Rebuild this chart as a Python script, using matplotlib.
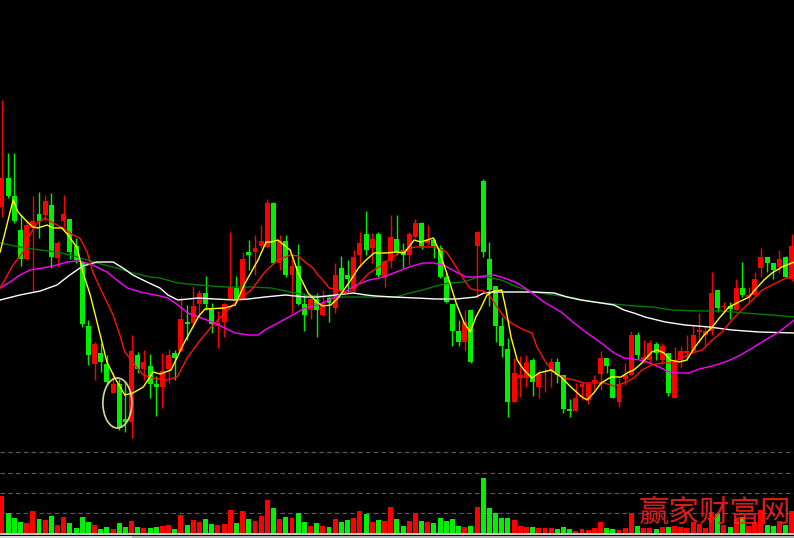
import matplotlib
matplotlib.use('Agg')
import matplotlib.pyplot as plt
from matplotlib.patches import Ellipse, Rectangle

# ---------------- data ----------------
opens = [293, 322, 304, 270, 241, 272, 286, 285, 295, 242,
         279, 281, 254, 238, 174, 136, 147, 136, 107, 116,
         81, 78, 145, 131, 134, 116, 113, 131, 147, 149,
         178, 177, 196, 207, 192, 174, 178, 201, 212, 201,
         248, 248, 254, 253, 297, 237, 259, 225, 234, 196,
         190, 201, 185, 202, 192, 232, 225, 211, 245, 266,
         252, 266, 223, 239, 261, 250, 245, 263, 277, 257,
         260, 252, 223, 196, 169, 158, 190, 254, 319, 241,
         214, 174, 151, 98, 122, 122, 140, 113, 128, 129,
         138, 125, 91, 89, 113, 100, 118, 126, 142, 131,
         98, 121, 125, 165, 140, 140, 156, 140, 147, 102,
         140, 147, 149, 168, 165, 169, 210, 193, 194, 190,
         212, 203, 205, 232, 243, 237, 233, 243, 221]
highs = [400, 347, 347, 285, 280, 304, 308, 305, 307, 259,
         305, 281, 262, 238, 180, 158, 157, 145, 127, 121,
         118, 165, 148, 150, 146, 124, 147, 151, 150, 203,
         195, 214, 210, 224, 197, 189, 197, 268, 224, 248,
         260, 265, 275, 301, 298, 265, 265, 245, 256, 207,
         203, 207, 210, 206, 237, 244, 240, 250, 268, 289,
         267, 268, 240, 285, 285, 257, 268, 281, 278, 275,
         262, 255, 227, 196, 180, 190, 190, 269, 321, 258,
         214, 183, 162, 142, 144, 145, 142, 130, 132, 142,
         142, 125, 101, 117, 118, 117, 125, 149, 142, 131,
         122, 137, 169, 168, 160, 160, 158, 157, 147, 153,
         154, 165, 174, 187, 174, 228, 210, 198, 198, 221,
         238, 213, 228, 252, 243, 237, 250, 244, 266]
lows = [283, 302, 277, 234, 240, 209, 262, 279, 232, 233,
        273, 241, 237, 173, 135, 120, 128, 115, 107, 70,
        68, 62, 127, 120, 102, 84, 92, 117, 120, 149,
        160, 173, 183, 190, 167, 152, 163, 201, 197, 200,
        230, 225, 252, 252, 236, 230, 223, 187, 195, 169,
        181, 163, 184, 178, 187, 206, 208, 208, 233, 245,
        237, 223, 213, 232, 245, 232, 235, 262, 251, 255,
        242, 222, 197, 154, 154, 149, 137, 202, 243, 194,
        158, 143, 83, 98, 103, 113, 104, 102, 108, 113,
        117, 87, 83, 89, 100, 96, 110, 110, 127, 102,
        93, 115, 125, 141, 137, 138, 140, 136, 104, 102,
        132, 142, 149, 158, 155, 165, 188, 187, 181, 190,
        203, 197, 205, 223, 228, 221, 227, 222, 219]
closes = [322, 304, 279, 241, 275, 279, 279, 299, 243, 257,
          286, 248, 240, 176, 145, 156, 138, 118, 116, 72,
          78, 149, 131, 138, 116, 113, 129, 145, 142, 181,
          176, 194, 207, 196, 176, 177, 196, 213, 201, 241,
          245, 252, 259, 297, 237, 259, 225, 234, 196, 185,
          201, 190, 197, 197, 225, 210, 221, 243, 257, 250,
          261, 225, 239, 263, 248, 245, 266, 277, 254, 260,
          254, 223, 198, 169, 158, 178, 138, 268, 248, 210,
          174, 154, 98, 127, 125, 138, 118, 126, 129, 138,
          125, 91, 89, 102, 116, 116, 120, 142, 134, 102,
          116, 125, 165, 145, 143, 157, 147, 154, 107, 138,
          149, 149, 165, 170, 169, 207, 192, 194, 191, 212,
          205, 205, 221, 243, 237, 230, 241, 223, 254]
volumes = [37, 20, 15, 11, 10, 22, 14, 13, 17, 8,
           16, 10, 5, 16, 11, 8, 4, 6, 4, 10,
           6, 12, 6, 5, 5, 6, 7, 8, 4, 18,
           8, 13, 11, 14, 9, 8, 9, 23, 10, 22,
           14, 12, 17, 33, 25, 14, 16, 15, 20, 11,
           7, 10, 7, 6, 14, 11, 13, 15, 22, 19,
           11, 13, 12, 26, 14, 7, 12, 20, 12, 11,
           10, 15, 12, 14, 7, 6, 7, 26, 55, 25,
           20, 15, 15, 13, 7, 6, 6, 5, 5, 5,
           4, 6, 4, 2, 4, 3, 5, 11, 5, 4,
           3, 5, 20, 7, 5, 5, 4, 6, 6, 7,
           6, 5, 11, 9, 5, 21, 19, 8, 6, 14,
           16, 7, 11, 23, 8, 7, 12, 8, 22]

# moving averages: (bar index, value)
ma5 = [(-0.3, 248), (1.8, 300), (2.6, 288), (4.1, 278), (5.0, 273), (5.8, 272), (7.3, 275),
       (8.3, 272), (9.7, 272), (10.7, 265), (12.2, 252), (13.1, 228), (14.3, 205), (15.4, 178),
       (17.0, 138), (18.3, 122), (19.9, 105), (21.2, 107), (22.9, 113), (24.5, 128), (25.6, 126),
       (27.4, 130), (29.5, 157), (31.9, 184), (32.9, 191), (36.1, 192), (37.8, 195), (39.4, 217),
       (41.5, 240), (42.8, 258), (43.6, 258), (44.7, 260), (46.7, 250), (48.0, 227), (49.6, 207),
       (51.2, 197), (52.0, 194), (53.3, 195), (54.6, 203), (56.2, 217), (57.9, 233), (59.0, 240),
       (60.3, 247), (62.2, 247), (63.9, 248), (65.2, 247), (66.8, 260), (67.9, 258), (69.9, 262),
       (70.8, 250), (72.3, 223), (73.6, 197), (74.9, 177), (75.9, 168), (76.8, 183), (77.6, 192),
       (78.6, 205), (79.7, 209), (81.0, 210), (81.7, 190), (82.5, 163), (83.5, 140), (84.6, 130),
       (85.9, 122), (87.0, 127), (89.0, 130), (90.6, 123), (92.2, 113), (93.8, 104), (94.8, 100),
       (95.9, 107), (97.1, 117), (98.7, 123), (100.3, 123), (101.6, 128), (102.4, 130), (103.7, 137),
       (105.3, 148), (106.2, 150), (107.3, 147), (108.3, 140), (109.7, 138), (111.0, 140),
       (112.3, 153), (113.8, 165), (115.1, 173), (116.4, 183), (117.8, 193), (119.4, 198),
       (121.1, 203), (122.0, 210), (123.5, 220), (124.8, 227), (126.4, 233), (128.4, 238)]
ma10 = [(-0.3, 212), (1.8, 235), (3.4, 248), (4.5, 265), (5.7, 277), (7.0, 282), (8.3, 277),
        (9.9, 272), (11.5, 265), (12.6, 262), (13.8, 248), (14.7, 228), (15.9, 212), (17.0, 198),
        (18.0, 185), (19.1, 165), (19.9, 148), (20.7, 142), (21.9, 132), (22.9, 125), (24.5, 122),
        (26.7, 120), (28.4, 123), (30.0, 142), (31.9, 158), (33.9, 173), (36.1, 187), (38.2, 200),
        (40.4, 210), (42.6, 228), (44.7, 240), (46.8, 245), (48.0, 244), (49.1, 238), (50.4, 232),
        (51.2, 225), (52.0, 220), (53.0, 212), (54.1, 211), (55.8, 207), (56.9, 210), (57.9, 217),
        (59.5, 227), (61.1, 233), (62.7, 240), (64.3, 247), (66.0, 252), (67.1, 253), (68.7, 253),
        (70.3, 253), (72.0, 248), (73.1, 238), (74.1, 228), (75.2, 217), (76.0, 211), (76.8, 210),
        (78.1, 209), (79.3, 202), (80.2, 193), (81.4, 183), (82.5, 177), (84.6, 170), (85.9, 167),
        (86.7, 153), (88.2, 137), (89.5, 128), (91.1, 122), (92.7, 120), (94.3, 117), (95.9, 117),
        (97.6, 117), (99.2, 114), (100.8, 117), (102.4, 122), (103.7, 130), (105.3, 135),
        (107.0, 137), (108.6, 137), (110.2, 142), (111.8, 147), (113.5, 150), (115.1, 160),
        (116.7, 168), (118.3, 180), (119.9, 190), (121.6, 200), (123.2, 210), (124.8, 215),
        (126.4, 220), (128.4, 225)]
ma20 = [(-0.3, 212), (1.3, 218), (2.9, 225), (4.5, 230), (6.6, 232), (8.9, 235), (10.5, 238),
        (12.2, 239), (13.1, 238), (14.7, 235), (17.0, 228), (18.6, 220), (20.3, 212), (22.4, 208),
        (25.6, 204), (26.9, 202), (28.5, 195), (30.1, 187), (32.3, 182), (34.5, 177), (36.1, 172),
        (37.8, 167), (39.9, 165), (41.5, 165), (42.6, 170), (44.7, 177), (46.8, 184), (49.1, 192),
        (51.2, 195), (53.0, 200), (55.3, 207), (57.4, 215), (59.5, 220), (61.8, 223), (63.9, 228),
        (66.0, 233), (68.2, 237), (69.9, 237), (71.5, 235), (73.6, 228), (75.2, 223), (76.8, 223),
        (78.1, 224), (79.7, 225), (81.4, 222), (83.5, 217), (85.7, 208), (87.8, 198), (90.6, 188),
        (92.7, 177), (94.8, 167), (97.1, 157), (99.2, 147), (100.8, 142), (102.4, 141),
        (104.2, 139), (106.5, 133), (108.1, 128), (109.7, 127), (111.3, 127), (113.0, 131),
        (115.1, 134), (117.2, 138), (119.4, 144), (121.6, 152), (123.7, 160), (125.9, 168),
        (128.4, 180)]
ma30 = [(-0.3, 200), (2.9, 205), (6.2, 209), (8.9, 215), (11.0, 225), (13.1, 234), (15.4, 238),
        (18.0, 238), (19.6, 232), (21.2, 225), (23.5, 218), (25.6, 212), (26.9, 205), (28.5, 200),
        (31.8, 202), (34.5, 201), (37.8, 200), (39.9, 201), (42.6, 203), (45.9, 205), (49.1, 203),
        (51.2, 203), (54.1, 205), (56.9, 207), (59.0, 205), (60.6, 204), (63.4, 203), (67.1, 202),
        (70.3, 201), (73.6, 201), (76.8, 203), (78.1, 207), (79.7, 208), (83.0, 208), (86.2, 208),
        (89.5, 207), (91.6, 203), (93.8, 200), (97.1, 197), (99.2, 195), (100.8, 190),
        (102.4, 187), (104.2, 183), (107.5, 178), (110.7, 175), (114.6, 173), (118.3, 170),
        (122.7, 168), (128.4, 167)]
ma60 = [(-0.3, 257), (2.9, 253), (6.2, 250), (8.9, 248), (12.2, 243), (15.4, 237), (18.6, 232),
        (21.2, 227), (24.0, 223), (25.6, 222), (28.5, 217), (31.8, 215), (36.1, 213), (40.4, 213),
        (43.6, 212), (46.8, 208), (49.1, 205), (51.2, 204), (54.1, 203), (59.0, 203), (63.9, 203),
        (66.0, 207), (68.2, 210), (70.3, 214), (72.4, 217), (74.7, 218), (76.8, 222), (78.6, 223),
        (80.9, 220), (83.5, 213), (86.2, 208), (89.5, 205), (92.7, 202), (95.9, 198), (99.2, 196),
        (102.4, 194), (105.3, 193), (108.6, 190), (113.0, 189), (116.7, 189), (120.4, 187),
        (124.8, 185), (128.4, 183)]

watermark = '赢家财富网'

RED = '#ff0000'
GREEN = '#00f000'

# ---------------- figure ----------------
W, H = 794, 538
fig = plt.figure(figsize=(W / 100, H / 100), dpi=100, facecolor='black')
ax = fig.add_axes([0, 93 / H, 1, 445 / H])
axv = fig.add_axes([0, 5 / H, 1, 88 / H])
for a in (ax, axv):
    a.set_facecolor('black')
    a.set_axis_off()
    a.set_xlim(-0.324, 128.36)
ax.set_ylim(55, 500)
axv.set_ylim(0, 88)

n = len(opens)
xs = list(range(n))
cols = [RED if c >= o else GREEN for o, c in zip(opens, closes)]

# wicks
ax.vlines(xs, lows, highs, colors=cols, linewidth=1.0, zorder=2)
# bodies
bottoms = [min(o, c) for o, c in zip(opens, closes)]
heights = [max(abs(c - o), 1.2) for o, c in zip(opens, closes)]
ax.bar(xs, heights, bottom=bottoms, width=0.8, color=cols, linewidth=0, zorder=3)

# moving averages
for ma, col in [(ma60, '#007a00'), (ma30, '#ffffff'), (ma20, '#ff00ff'),
                (ma10, '#ff1010'), (ma5, '#ffff00')]:
    mx, my = zip(*ma)
    ax.plot(mx, my, color=col, linewidth=1.0, zorder=5)

# highlight ellipse
ax.add_patch(Ellipse((18.7, 97), 4.7, 50, fill=False, edgecolor='#d8d890',
                     linewidth=1.2, zorder=6))

# volume panel
for gy in (20, 40, 60, 81):
    axv.axhline(gy, color='#5c5c5c', linewidth=0.8, linestyle=(0, (4, 3)), zorder=1)
axv.bar(xs, volumes, width=0.8, color=cols, linewidth=0, zorder=3)

# bottom band
fig.add_artist(Rectangle((0, 3 / H), 1, 2 / H, transform=fig.transFigure,
                         facecolor='#c8c8c8', edgecolor='none'))
fig.add_artist(Rectangle((0, 0), 1, 1.7 / H, transform=fig.transFigure,
                         facecolor='#b0b0b0', edgecolor='none'))
fig.add_artist(Rectangle((0, 0), 132 / W, 1.7 / H, transform=fig.transFigure,
                         facecolor='#d8d8d8', edgecolor='none'))

# watermark
fig.text(715 / W, 25 / H, watermark, family=['Noto Sans CJK SC', 'DejaVu Sans'],
         color='#ff2020', fontsize=22, fontweight=100, alpha=0.85,
         ha='center', va='center', zorder=10)

fig.savefig('out.png', dpi=100, facecolor='black')
